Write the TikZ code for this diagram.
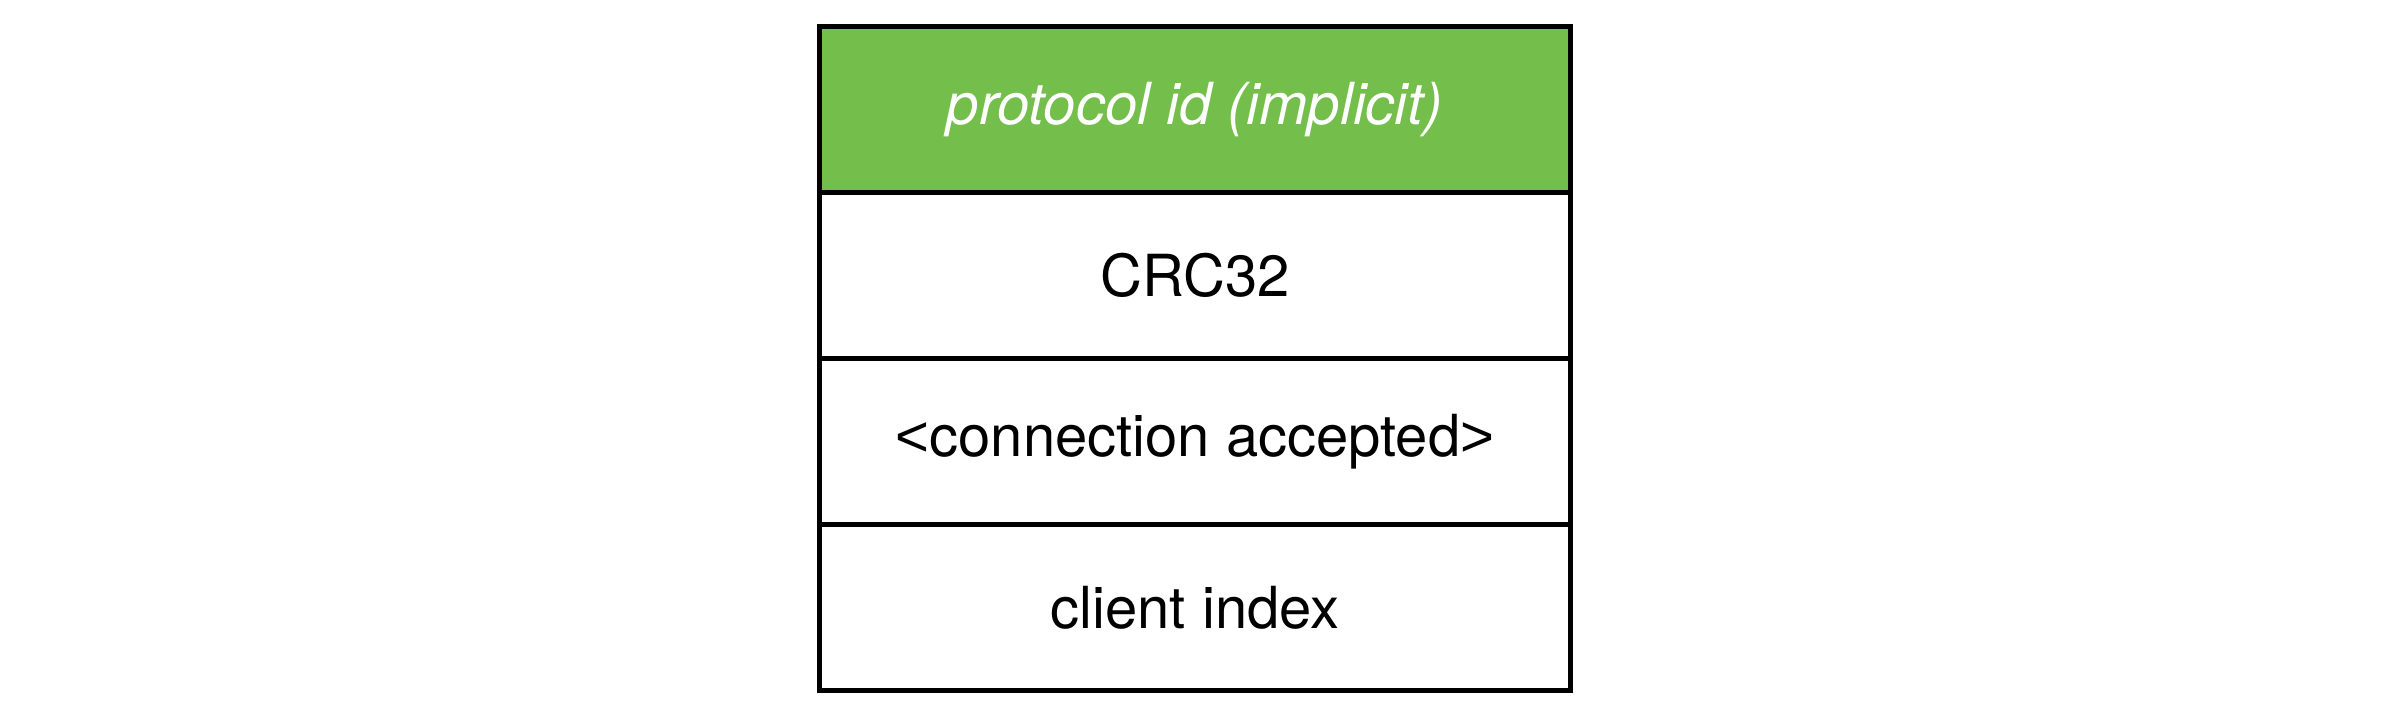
\documentclass[tikz,border=0pt]{standalone}
\usepackage{fontspec}
\setmainfont{TeX Gyre Heros}
\newfontfamily\bracketfont{Liberation Sans}
\usetikzlibrary{positioning}
\definecolor{idgreen}{RGB}{116,191,75}

\begin{document}
\begin{tikzpicture}[x=1pt,y=-1pt,node distance=0pt]
    \tikzstyle{field}=[rectangle, draw, line width=5pt, outer sep=0pt, minimum width=751pt, minimum height=166pt, font=\fontsize{58}{70}\selectfont]
    \tikzstyle{implicit}=[field, fill=idgreen, text=white, font=\fontsize{58}{70}\selectfont\itshape]

    \useasboundingbox (0,0) rectangle (2392,725);

    \node[implicit, anchor=north west] (protocol) at (819.5,26.5) {protocol id (implicit)};
    \node[field]   (crc)      [below=of protocol] {CRC32};
    \node[field]   (accepted) [below=of crc]      {{\bracketfont<}connection accepted{\bracketfont>}};
    \node[field]   (index)    [below=of accepted] {client index};

\end{tikzpicture}
\end{document}
